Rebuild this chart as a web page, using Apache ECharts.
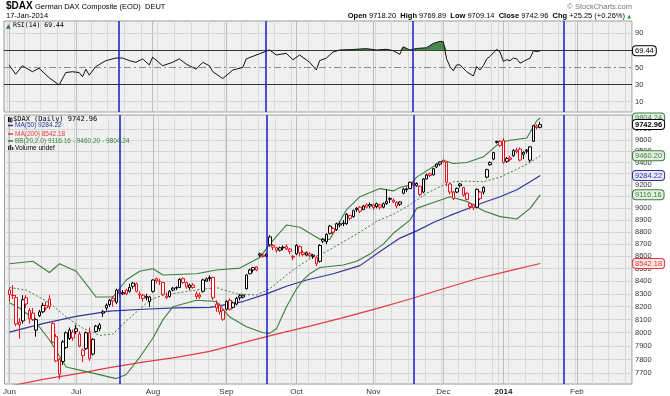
<!DOCTYPE html>
<html><head><meta charset="utf-8">
<script src="https://cdn.jsdelivr.net/npm/echarts@6/dist/echarts.min.js"></script>
<style>html,body{margin:0;padding:0;background:#fff}#c{width:670px;height:396px}</style>
</head><body><div id="c"></div><script>
// ---------- calendar (trading days, first one is the day before the data starts) ----------
const firstDay = [2013, 4, 31];
const holidays = ['2013-12-24','2013-12-25','2013-12-26','2013-12-31','2014-01-01'];
const dayCount = 188;
const monthNames = ['Jan','Feb','Mar','Apr','May','Jun','Jul','Aug','Sep','Oct','Nov','Dec'];
const OFFSET = 1; // data index 0 = 2013-06-03
const prevClose = 8349; // close before the first candle

// ---------- daily OHLC, 3-Jun-2013 .. 17-Jan-2014 ----------
const opens = [8330,8290,8270,8080,8090,8270,8170,8150,8020,8160,8160,8190,8260,8070,7970,7800,7785,7890,7955,7960,
8030,7990,7870,7880,8000,7840,8010,8030,8160,8190,8215,8265,8235,8320,8300,8330,8320,8360,8380,8300,8290,8280,8240,
8320,8420,8400,8390,8270,8280,8330,8345,8350,8420,8390,8350,8370,8300,8290,8320,8400,8420,8430,8220,8210,8170,
8180,8250,8195,8220,8270,8275,8340,8460,8490,8515,8620,8610,8600,8760,8690,8670,8650,8670,8680,8660,8600,
8620,8680,8630,8610,8620,8600,8590,8560,8740,8720,8790,8830,8820,8860,8870,8870,8940,8930,8990,9010,8990,9030,9020,
9030,9040,9030,9010,9040,9085,9070,9050,9055,9130,9160,9170,9220,9195,9190,9140,9255,9300,9290,9360,9385,
9420,9400,9210,9140,9140,9210,9180,9130,9040,9030,9010,9140,9140,9270,9380,9430,9580,9590,
9598,9410,9440,9460,9510,9520,9490,9500,9420,9590,9730,9718.20];
const highs = [8345,8370,8290,8110,8290,8290,8190,8190,8110,8175,8230,8240,8290,8090,7990,7810,7945,8010,8040,8025,
8060,8010,7880,8010,8040,7960,8060,8075,8175,8225,8260,8280,8340,8340,8330,8340,8380,8395,8390,8320,8300,8300,8285,
8415,8430,8420,8395,8310,8330,8355,8360,8425,8430,8395,8380,8385,8320,8310,8420,8430,8445,8435,8250,8225,8180,
8250,8265,8240,8275,8300,8295,8455,8500,8515,8520,8630,8625,8630,8775,8700,8680,8680,8690,8700,8670,8610,
8700,8690,8650,8640,8635,8620,8600,8700,8750,8790,8860,8840,8880,8890,8900,8960,8945,8990,9010,9020,9030,9045,9050,
9040,9050,9040,9050,9160,9095,9085,9060,9060,9175,9180,9230,9230,9225,9195,9260,9300,9310,9350,9390,9410,
9425,9405,9220,9150,9180,9220,9185,9135,9050,9040,9170,9150,9190,9345,9410,9495,9595,9600,
9620,9450,9460,9520,9530,9535,9500,9520,9545,9740,9745,9769.89];
const lows = [8240,8260,8050,7955,8070,8190,8070,8090,7970,8120,8150,8170,8180,7920,7780,7655,7760,7880,7945,7940,
7990,7890,7780,7870,7790,7830,8000,8010,8120,8170,8200,8200,8220,8280,8290,8290,8310,8340,8310,8260,8240,8250,8200,
8310,8380,8370,8285,8260,8270,8320,8330,8345,8380,8340,8330,8340,8260,8260,8310,8395,8400,8250,8160,8140,8090,
8170,8170,8185,8210,8250,8265,8335,8455,8470,8480,8595,8590,8590,8680,8650,8630,8640,8650,8650,8620,8570,
8610,8600,8600,8600,8590,8580,8520,8550,8710,8700,8780,8780,8810,8840,8850,8860,8900,8920,8970,8960,8985,9000,9000,
8990,9000,8990,9000,9030,9045,9045,9000,9020,9120,9140,9165,9180,9185,9105,9130,9250,9270,9285,9350,9370,
9395,9190,9120,9070,9130,9180,9100,9070,8990,8985,9000,9070,9120,9260,9370,9420,9570,9540,
9390,9395,9410,9450,9480,9410,9430,9480,9400,9585,9700,9709.14];
const closes = [8295,8286,8067,8059,8254,8221,8106,8100,8100,8130,8210,8207,8200,7929,7789,7692,7930,8000,8020,8005,
8010,7900,7829,8000,7806,7950,8050,8060,8150,8212,8250,8245,8330,8300,8310,8300,8350,8385,8320,8290,8265,8270,8276,
8410,8403,8398,8297,8282,8320,8345,8350,8415,8390,8355,8370,8350,8280,8275,8410,8420,8430,8270,8190,8160,8103,
8240,8180,8230,8265,8285,8290,8450,8490,8510,8490,8610,8600,8620,8694,8675,8650,8670,8675,8660,8640,8594,
8690,8630,8615,8630,8605,8610,8540,8690,8725,8780,8850,8800,8870,8870,8876,8950,8915,8980,9001,8975,9020,9010,9033,
9006,9015,9010,9040,9060,9078,9055,9020,9035,9165,9168,9225,9200,9215,9120,9254,9290,9285,9345,9385,9405,
9404,9225,9140,9084,9172,9195,9114,9077,9017,9006,9163,9085,9181,9336,9400,9488,9589,9552,
9400,9435,9428,9506,9497,9421,9473,9510,9540,9733,9717.71,9742.96];

// ---------- indicators: [data index, value] ----------
const ma50Pts = [[0,8005],[10,8070],[20,8125],[30,8165],[40,8180],[50,8190],[60,8195],[70,8240],[77,8300],[83,8360],
[89,8410],[97,8460],[105,8525],[111,8640],[117,8750],[122,8810],[127,8880],[132,8940],[137,8995],[142,9050],[147,9100],
[152,9160],[156,9230],[159,9284.22]];
const ma200Pts = [[0,7605],[10,7655],[20,7695],[30,7740],[40,7780],[50,7815],[60,7860],[70,7925],[80,7990],[90,8050],
[100,8115],[110,8185],[120,8260],[130,8340],[140,8420],[150,8485],[159,8542.18]];
const bbUpperPts = [[0,8540],[7,8560],[12,8470],[15,8540],[20,8480],[26,8275],[31,8275],[35,8410],[39,8480],[43,8500],
[46,8450],[56,8460],[62,8490],[69,8505],[75,8590],[78,8700],[83,8860],[87,8840],[90,8790],[93,8740],[96,8740],[101,8990],
[105,9100],[111,9170],[115,9150],[117,9180],[120,9200],[122,9270],[130,9420],[133,9390],[137,9400],[142,9450],[147,9580],
[150,9600],[155,9620],[158,9780],[159,9804.24]];
const bbMidPts = [[0,8350],[5,8330],[12,8230],[17,8120],[22,8035],[27,7980],[31,7990],[35,8090],[39,8180],[42,8250],
[46,8290],[56,8330],[62,8350],[68,8300],[74,8290],[78,8340],[83,8450],[86,8510],[90,8580],[95,8640],[100,8720],[105,8800],
[110,8890],[115,8950],[120,9030],[125,9130],[130,9200],[133,9230],[137,9235],[142,9230],[147,9270],[152,9340],[156,9400],
[159,9460.20]];
const bbLowerPts = [[0,8230],[3,8190],[7,8110],[12,7945],[17,7745],[25,7700],[32,7660],[35,7690],[39,7815],[43,7960],
[46,8100],[49,8200],[56,8250],[62,8240],[66,8120],[71,8045],[76,8000],[78,7995],[80,8030],[83,8200],[86,8340],[88,8410],
[90,8460],[93,8510],[100,8530],[104,8560],[108,8620],[112,8700],[115,8790],[120,8900],[122,9000],[127,9050],[132,9100],
[137,9060],[142,8980],[147,8930],[152,8910],[156,9000],[159,9116.16]];
const rsiPts = [[0,53],[2,42],[4,52],[7,45],[9,49],[12,38],[15,29.5],[17,44],[19,45],[21,44],[22,39],[23,48],[24,41],
[26,51],[29,58],[32,61],[34,61],[36,58],[38,56],[40,60],[42,53],[43,62],[46,52],[49,56],[51,60],[53,54],[56,48],[58,56],
[60,52],[61,45],[64,37],[67,47],[70,50],[71,60],[75,66],[78,70.5],[80,64.6],[83,66.5],[85,59],[87,64.6],[90,56],[92,47],
[93,58],[95,61],[97,68],[99,70.4],[103,71],[107,72],[110,70.4],[113,71.2],[115,69.6],[117,65.4],[118,74.2],[120,70.4],
[122,72.2],[125,73],[127,78],[129,80.5],[130,80],[131,60],[132,51],[133,46],[134,53],[135,53],[137,45],[139,40],[140,51],
[141,47],[142,52],[143,60],[144,63],[145,67],[146,71],[147,68],[148,57],[149,59],[150,58],[151,61],[152,60],[153,55],
[154,57],[155,59],[156,61],[157,69.5],[158,68.5],[159,69.44]];

const priceTicks = [7700,7800,7900,8000,8100,8200,8300,8400,8500,8600,8700,8800,8900,9000,9100,9200,9300,9400,9500,9600,9700];
const rsiTicks = [10,30,50,90];
const cycleDates = ['2013-07-18','2013-09-18','2013-11-19','2014-01-28'];

// ---------- build ----------
const cats = [];
let t = Date.UTC(firstDay[0], firstDay[1], firstDay[2]);
while (cats.length < dayCount) {
  const dt = new Date(t); const wd = dt.getUTCDay(); const s = dt.toISOString().slice(0, 10);
  if (wd !== 0 && wd !== 6 && holidays.indexOf(s) < 0) cats.push(s);
  t += 86400000;
}
const monthOf = s => +s.slice(5, 7);
const isMonthStart = (i) => i > 0 && monthOf(cats[i]) !== monthOf(cats[i - 1]);
const isMonday = (i, v) => new Date(v + 'T00:00:00Z').getUTCDay() === 1;
const monthStarts = cats.filter((c, i) => isMonthStart(i));

const RED = '#e8101a', BLK = '#000000';
const candles = opens.map((o, i) => {
  const pc = i === 0 ? prevClose : closes[i - 1];
  const col = closes[i] < pc ? RED : BLK;
  return { value: [i + OFFSET, o, closes[i], lows[i], highs[i]],
    itemStyle: { color: '#ffffff', color0: col, borderColor: col, borderColor0: col } };
});
const sh = pts => pts.map(p => [p[0] + OFFSET, p[1]]);
const rsiFill = rsiPts.map(p => [p[0] + OFFSET, Math.max(p[1], 70)]);

function tag(val, col, bg, bold) {
  return { z: 8, symbol: 'none', silent: true, animation: false,
    lineStyle: { color: 'rgba(0,0,0,0)', width: 1 },
    label: { show: true, position: 'end', distance: 1, formatter: val.toFixed(2), color: col, backgroundColor: bg,
      borderColor: col, borderWidth: 1, borderRadius: 3, padding: [1, 2, 0, 2], fontSize: 7.5,
      fontWeight: bold ? 'bold' : 'normal', fontFamily: 'Liberation Sans' },
    data: [{ yAxis: val }] };
}
const GREEN = '#3b7f3b', BLUE = '#34349c', MARED = '#e23c3c';

const chart = echarts.init(document.getElementById('c'), null, { renderer: 'canvas' });
chart.setOption({
  animation: false,
  backgroundColor: '#ffffff',
  textStyle: { fontFamily: 'Liberation Sans' },
  grid: [
    { left: 4, right: 38, top: 21, height: 91, show: true, backgroundColor: '#f0f0f0', borderColor: '#9a9a9a', borderWidth: 1 },
    { left: 4, right: 38, top: 115, height: 269, show: true, backgroundColor: '#f0f0f0', borderColor: '#9a9a9a', borderWidth: 1 }
  ],
  xAxis: [
    { type: 'category', gridIndex: 0, data: cats, boundaryGap: true, axisLine: { show: false }, axisTick: { show: false },
      axisLabel: { show: false }, splitLine: { show: true, interval: isMonday, lineStyle: { color: '#d9d9d9', width: 1 } } },
    { type: 'category', gridIndex: 1, data: cats, boundaryGap: true, axisLine: { show: false }, axisTick: { show: false },
      axisLabel: { interval: (i) => isMonthStart(i), margin: 4, fontSize: 8, color: '#333',
        formatter: (v) => { const m = monthOf(v); return m === 1 ? '{b|' + v.slice(0, 4) + '}' : monthNames[m - 1]; },
        rich: { b: { fontWeight: 'bold', fontSize: 8, color: '#222' } } },
      splitLine: { show: true, interval: isMonday, lineStyle: { color: '#d9d9d9', width: 1 } } }
  ],
  yAxis: [
    { type: 'value', gridIndex: 0, min: -2.1, max: 104.3, axisLabel: { show: false }, axisLine: { show: false },
      axisTick: { show: false }, splitLine: { show: false } },
    { type: 'log', gridIndex: 1, logBase: 10, min: 7621, max: 9832, axisLabel: { show: false }, axisLine: { show: false },
      axisTick: { show: false }, splitLine: { show: false } }
  ],
  series: [
    // price grid lines + tick labels
    { type: 'line', xAxisIndex: 1, yAxisIndex: 1, data: [], silent: true,
      markLine: { z: 1, symbol: 'none', silent: true, animation: false,
        lineStyle: { color: '#d6d6d6', width: 1, type: 'solid' },
        label: { position: 'end', distance: 3, color: '#333', fontSize: 7.5, formatter: p => String(p.value) },
        data: priceTicks.map(v => ({ yAxis: v })) } },
    // month lines in both panels
    { type: 'line', xAxisIndex: 1, yAxisIndex: 1, data: [], silent: true,
      markLine: { z: 1, symbol: 'none', silent: true, animation: false, label: { show: false },
        lineStyle: { color: '#bdbdbd', width: 1, type: 'solid' }, data: monthStarts.map(c => ({ xAxis: c })) } },
    { type: 'line', xAxisIndex: 0, yAxisIndex: 0, data: [], silent: true,
      markLine: { z: 1, symbol: 'none', silent: true, animation: false, label: { show: false },
        lineStyle: { color: '#bdbdbd', width: 1, type: 'solid' }, data: monthStarts.map(c => ({ xAxis: c })) } },
    // RSI reference lines + labels
    { type: 'line', xAxisIndex: 0, yAxisIndex: 0, data: [], silent: true,
      markLine: { z: 1, symbol: 'none', silent: true, animation: false,
        label: { position: 'end', distance: 3, color: '#333', fontSize: 7.5, formatter: p => String(p.value) },
        data: [
          { yAxis: rsiTicks[3], lineStyle: { color: '#d6d6d6', width: 1, type: 'solid' } },
          { yAxis: rsiTicks[0], lineStyle: { color: '#d6d6d6', width: 1, type: 'solid' } },
          { yAxis: rsiTicks[2], lineStyle: { color: '#8a8a8a', width: 1, type: [7, 3, 2, 3] } },
          { yAxis: rsiTicks[1], lineStyle: { color: '#333', width: 1, type: 'solid' } },
          { yAxis: 70, lineStyle: { color: '#333', width: 1, type: 'solid' }, label: { show: false } }
        ] } },
    // RSI overbought fill
    { type: 'line', xAxisIndex: 0, yAxisIndex: 0, data: rsiFill, showSymbol: false, silent: true, z: 2,
      lineStyle: { width: 0 }, areaStyle: { origin: 70, color: '#4b874b', opacity: 1 } },
    // RSI line
    { type: 'line', xAxisIndex: 0, yAxisIndex: 0, data: sh(rsiPts), showSymbol: false, silent: true, z: 3,
      lineStyle: { color: '#111', width: 1 }, markLine: tag(69.44, '#000', '#ffffff', false) },
    // indicators
    { type: 'line', xAxisIndex: 1, yAxisIndex: 1, data: sh(ma200Pts), showSymbol: false, silent: true, z: 3,
      lineStyle: { color: MARED, width: 1.2 }, markLine: tag(8542.18, MARED, '#fbe6e6') },
    { type: 'line', xAxisIndex: 1, yAxisIndex: 1, data: sh(ma50Pts), showSymbol: false, silent: true, z: 3,
      lineStyle: { color: BLUE, width: 1.2 }, markLine: tag(9284.22, BLUE, '#e8e8f8') },
    { type: 'line', xAxisIndex: 1, yAxisIndex: 1, data: sh(bbUpperPts), showSymbol: false, silent: true, z: 3,
      lineStyle: { color: GREEN, width: 1.1 }, markLine: tag(9804.24, GREEN, '#e4efe4') },
    { type: 'line', xAxisIndex: 1, yAxisIndex: 1, data: sh(bbMidPts), showSymbol: false, silent: true, z: 3,
      lineStyle: { color: GREEN, width: 1, type: [2, 2] }, markLine: tag(9460.20, GREEN, '#e4efe4') },
    { type: 'line', xAxisIndex: 1, yAxisIndex: 1, data: sh(bbLowerPts), showSymbol: false, silent: true, z: 3,
      lineStyle: { color: GREEN, width: 1.1 }, markLine: tag(9116.16, GREEN, '#e4efe4') },
    // candles
    { type: 'candlestick', xAxisIndex: 1, yAxisIndex: 1, data: candles, encode: { x: 0, y: [1, 2, 3, 4] },
      barWidth: 3, silent: true, z: 4, markLine: tag(9742.96, '#000', '#ffffff', true) },
    // cycle lines
    { type: 'line', xAxisIndex: 1, yAxisIndex: 1, data: [], silent: true,
      markLine: { z: 6, symbol: 'none', silent: true, animation: false, label: { show: false },
        lineStyle: { color: '#1a1acc', width: 1.5, type: 'solid' }, data: cycleDates.map(c => ({ xAxis: c })) } },
    { type: 'line', xAxisIndex: 0, yAxisIndex: 0, data: [], silent: true,
      markLine: { z: 6, symbol: 'none', silent: true, animation: false, label: { show: false },
        lineStyle: { color: '#1a1acc', width: 1.5, type: 'solid' }, data: cycleDates.map(c => ({ xAxis: c })) } }
  ],
  graphic: [
    { type: 'text', z: 100, left: 6, top: 1, style: { text: '$DAX', font: 'bold 10px "Liberation Sans"', fill: '#000' } },
    { type: 'text', z: 100, left: 35, top: 3, style: { text: 'German DAX Composite (EOD)  DEUT', font: '7.5px "Liberation Sans"', fill: '#000' } },
    { type: 'text', z: 100, left: 6, top: 12, style: { text: '17-Jan-2014', font: '7.5px "Liberation Sans"', fill: '#000' } },
    { type: 'text', z: 100, right: 38, top: 3, style: { text: '© StockCharts.com', font: '7.5px "Liberation Sans"', fill: '#777' } },
    { type: 'text', z: 100, right: 45, top: 12, style: {
        text: '{b|Open} 9718.20  {b|High} 9769.89  {b|Low} 9709.14  {b|Close} 9742.96  {b|Chg} +25.25 (+0.26%)',
        font: '7.5px "Liberation Sans"', fill: '#000',
        rich: { b: { fontWeight: 'bold', fontSize: 7.5, fontFamily: 'Liberation Sans', fill: '#000' } } } },
    { type: 'text', z: 100, right: 39, top: 14, style: { text: '▲', font: '5px "DejaVu Sans"', fill: '#2a9a2a' } },
    // RSI panel label
    { type: 'text', z: 100, left: 6, top: 23, style: { text: '▲', font: '6px "DejaVu Sans"', fill: '#3b6b3b' } },
    { type: 'text', z: 100, left: 13, top: 22, style: { text: 'RSI(14) 69.44', font: '6.5px "DejaVu Sans Mono"', fill: '#000' } },
    // price panel legend
    { type: 'rect', z: 100, shape: { x: 8, y: 117, width: 1.5, height: 5 }, style: { fill: '#000' } },
    { type: 'rect', z: 100, shape: { x: 10.5, y: 118, width: 1.5, height: 4 }, style: { fill: '#fff', stroke: '#000', lineWidth: 0.8 } },
    { type: 'text', z: 100, left: 13, top: 115.5, style: { text: '$DAX (Daily) 9742.96', font: '7px "DejaVu Sans Mono"', fill: '#000' } },
    { type: 'line', z: 100, shape: { x1: 8, y1: 125.5, x2: 13, y2: 125.5 }, style: { stroke: BLUE, lineWidth: 1.5 } },
    { type: 'text', z: 100, left: 15, top: 122, style: { text: 'MA(50) 9284.22', font: '6.5px "Liberation Sans"', fill: BLUE } },
    { type: 'line', z: 100, shape: { x1: 8, y1: 134, x2: 13, y2: 134 }, style: { stroke: MARED, lineWidth: 1.5 } },
    { type: 'text', z: 100, left: 15, top: 130.5, style: { text: 'MA(200) 8542.18', font: '6.5px "Liberation Sans"', fill: MARED } },
    { type: 'line', z: 100, shape: { x1: 8, y1: 141, x2: 13, y2: 141 }, style: { stroke: GREEN, lineWidth: 1.5 } },
    { type: 'text', z: 100, left: 15, top: 137.5, style: { text: 'BB(20,2.0) 9116.16 - 9460.20 - 9804.24', font: '6.5px "Liberation Sans"', fill: GREEN } },
    { type: 'rect', z: 100, shape: { x: 8, y: 146, width: 1.3, height: 4 }, style: { fill: '#333' } },
    { type: 'rect', z: 100, shape: { x: 10, y: 145, width: 1.3, height: 5 }, style: { fill: '#333' } },
    { type: 'rect', z: 100, shape: { x: 12, y: 147, width: 1.3, height: 3 }, style: { fill: '#333' } },
    { type: 'text', z: 100, left: 15, top: 144.5, style: { text: 'Volume undef', font: '6.5px "Liberation Sans"', fill: '#000' } }
  ]
});
</script></body></html>
